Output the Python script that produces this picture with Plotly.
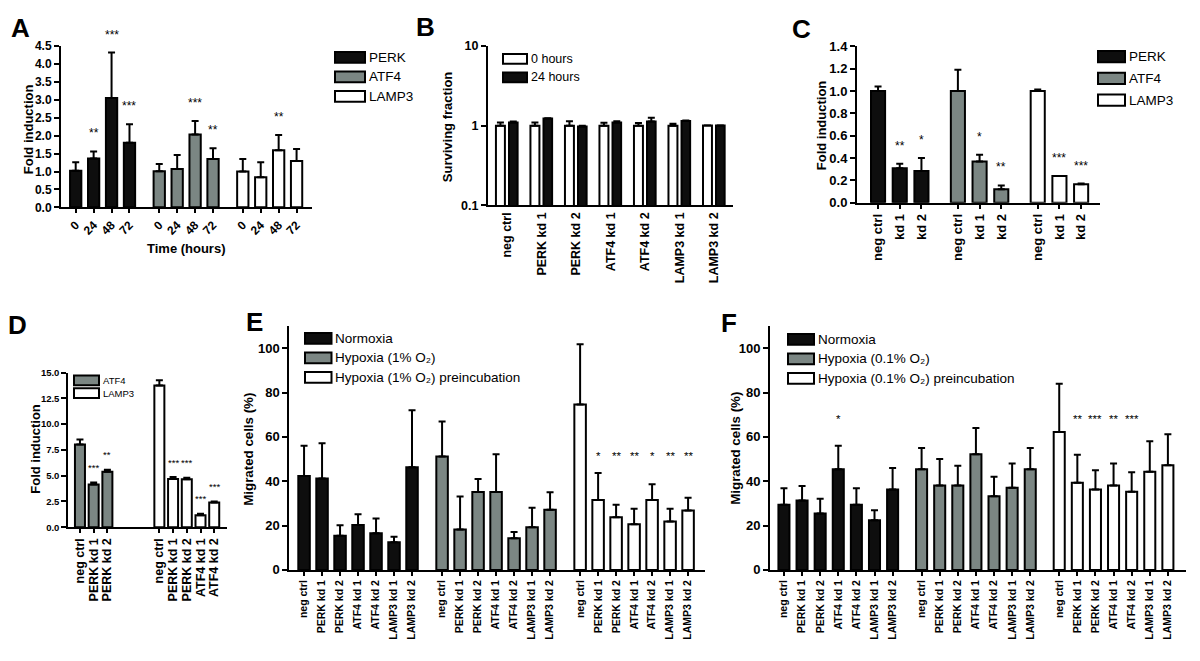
import plotly.graph_objects as go

W, H = 1200, 661
FONT = "Arial, 'Liberation Sans', Helvetica, sans-serif"
BLACK = "#0e0e0e"
GREY = "#7b8683"
WHITE = "#ffffff"

# ---------------- data ----------------
# Panel A: fold induction over time (hours)
a_time_labels = ["0", "24", "48", "72"]
a_genes = ["PERK", "ATF4", "LAMP3"]
a_perk = [1.02, 1.36, 3.05, 1.80]
a_perk_sem = [0.24, 0.20, 1.27, 0.52]
a_atf4 = [1.01, 1.07, 2.03, 1.35]
a_atf4_sem = [0.20, 0.39, 0.38, 0.30]
a_lamp3 = [1.00, 0.84, 1.59, 1.29]
a_lamp3_sem = [0.35, 0.42, 0.43, 0.34]
a_perk_sig = ["", "**", "***", "***"]
a_atf4_sig = ["", "", "***", "**"]
a_lamp3_sig = ["", "", "**", ""]

# Panel B: surviving fraction (log)
b_categories = ["neg ctrl", "PERK kd 1", "PERK kd 2", "ATF4 kd 1", "ATF4 kd 2", "LAMP3 kd 1", "LAMP3 kd 2"]
b_series = ["0 hours", "24 hours"]
b_0h = [1.00, 1.00, 1.00, 1.00, 1.00, 1.00, 1.01]
b_0h_sem = [0.10, 0.10, 0.14, 0.09, 0.08, 0.06, 0.00]
b_24h = [1.10, 1.23, 0.98, 1.10, 1.13, 1.15, 1.01]
b_24h_sem = [0.03, 0.01, 0.02, 0.04, 0.13, 0.01, 0.00]

# Panel C: knockdown efficiency
c_categories = ["neg ctrl", "kd 1", "kd 2"]
c_genes = ["PERK", "ATF4", "LAMP3"]
c_perk = [1.00, 0.31, 0.285]
c_perk_sem = [0.04, 0.04, 0.115]
c_atf4 = [1.00, 0.37, 0.12]
c_atf4_sem = [0.19, 0.06, 0.035]
c_lamp3 = [1.00, 0.24, 0.166]
c_lamp3_sem = [0.013, 0.0, 0.006]
c_perk_sig = ["", "**", "*"]
c_atf4_sig = ["", "*", "**"]
c_lamp3_sig = ["", "***", "***"]

# Panel D
d_genes = ["ATF4", "LAMP3"]
d_atf4_categories = ["neg ctrl", "PERK kd 1", "PERK kd 2"]
d_atf4 = [8.02, 4.14, 5.37]
d_atf4_sem = [0.48, 0.19, 0.19]
d_atf4_sig = ["", "***", "**"]
d_lamp3_categories = ["neg ctrl", "PERK kd 1", "PERK kd 2", "ATF4 kd 1", "ATF4 kd 2"]
d_lamp3 = [13.74, 4.67, 4.64, 1.17, 2.40]
d_lamp3_sem = [0.50, 0.19, 0.16, 0.13, 0.10]
d_lamp3_sig = ["", "***", "***", "***", "***"]

# Panel E: migration, 1% O2
ef_categories = ["neg ctrl", "PERK kd 1", "PERK kd 2", "ATF4 kd 1", "ATF4 kd 2", "LAMP3 kd 1", "LAMP3 kd 2"]
e_series = ["Normoxia", "Hypoxia (1% O\u2082)", "Hypoxia (1% O\u2082) preincubation"]
e_norm = [42.4, 41.3, 15.4, 20.3, 16.5, 12.5, 46.3]
e_norm_sem = [13.6, 15.9, 4.7, 4.8, 6.7, 2.5, 25.7]
e_hyp = [51.2, 18.2, 35.1, 35.1, 14.3, 19.3, 27.2]
e_hyp_sem = [15.8, 14.9, 5.9, 17.1, 2.8, 8.8, 7.8]
e_pre = [74.6, 31.6, 23.8, 20.6, 31.6, 21.8, 26.8]
e_pre_sem = [27.2, 12.1, 5.6, 7.0, 7.1, 5.8, 5.8]
e_pre_sig = ["", "*", "**", "**", "*", "**", "**"]

# Panel F: migration, 0.1% O2
f_series = ["Normoxia", "Hypoxia (0.1% O\u2082)", "Hypoxia (0.1% O\u2082) preincubation"]
f_norm = [29.4, 31.3, 25.4, 45.4, 29.4, 22.4, 36.3]
f_norm_sem = [7.5, 6.6, 6.7, 10.6, 7.5, 4.5, 9.7]
f_hyp = [45.4, 38.1, 38.1, 52.2, 33.2, 37.1, 45.4]
f_hyp_sem = [9.6, 11.9, 8.9, 11.8, 8.8, 10.9, 9.6]
f_pre = [62.2, 39.3, 36.3, 38.1, 35.3, 44.3, 47.2]
f_pre_sem = [21.8, 12.7, 8.7, 9.9, 8.8, 13.8, 14.0]
f_norm_sig = ["", "", "", "*", "", "", ""]
f_pre_sig = ["", "**", "***", "**", "***", "", ""]

# ---------------- helpers ----------------
fig = go.Figure()
annotations = []
shapes = []


def bars(ax, xs, ys, sem, color, width, offset=None):
    fig.add_trace(go.Bar(
        x=xs, y=ys, width=width, offset=offset,
        marker=dict(color=color, line=dict(color="black", width=2)),
        error_y=dict(type="data", symmetric=False, array=sem, arrayminus=[0] * len(sem),
                     color="black", thickness=2, width=3.5),
        xaxis="x" + ax, yaxis="y" + ax, showlegend=False, hoverinfo="skip"))


def stars(ax, xs, ys, labels, size=12, yshift=18):
    for x, y, s in zip(xs, ys, labels):
        if s:
            annotations.append(dict(x=x, y=y, xref="x" + ax, yref="y" + ax, text=s, showarrow=False,
                                    yanchor="middle", xanchor="center", yshift=yshift,
                                    font=dict(family=FONT, size=size, color="black")))


def ptext(px, py, text, size=13, bold=True, angle=0, xanchor="center"):
    annotations.append(dict(x=px / W, y=1 - py / H, xref="paper", yref="paper", text=text,
                            showarrow=False, textangle=angle, xanchor=xanchor, yanchor="middle",
                            font=dict(family=FONT, size=size, color="black",
                                      weight="bold" if bold else "normal")))


def legend_item(x0, y0, x1, y1, color, text, size=13.5):
    shapes.append(dict(type="rect", xref="paper", yref="paper", x0=x0 / W, x1=x1 / W,
                       y0=1 - y1 / H, y1=1 - y0 / H, fillcolor=color,
                       line=dict(color="black", width=2), layer="above"))
    ptext(x1 + 1.5, (y0 + y1) / 2, text, size=size, bold=False, xanchor="left")


def xaxis(dom, rng, tickvals, ticktext, anchor, size=12, angle=-90, ticks="outside", ticklen=4):
    return dict(domain=[dom[0] / W, dom[1] / W], range=rng, anchor=anchor, tickmode="array",
                tickvals=tickvals, ticktext=ticktext, tickangle=angle, showline=True,
                linecolor="black", linewidth=2, ticks=ticks, ticklen=ticklen, tickwidth=2,
                tickcolor="black", showgrid=False, zeroline=False, fixedrange=True,
                tickfont=dict(family=FONT, size=size, color="black", weight="bold"))


def yaxis(dom, rng, anchor, size=12, dtick=None, fmt=None, typ="linear", tickvals=None, ticktext=None):
    d = dict(domain=[1 - dom[1] / H, 1 - dom[0] / H], range=rng, anchor=anchor, type=typ,
             showline=True, linecolor="black", linewidth=2, ticks="outside", ticklen=5,
             tickwidth=2, tickcolor="black", showgrid=False, zeroline=False, fixedrange=True,
             tickfont=dict(family=FONT, size=size, color="black", weight="bold"))
    if dtick is not None:
        d.update(dtick=dtick, tick0=0)
    if fmt:
        d["tickformat"] = fmt
    if tickvals is not None:
        d.update(tickmode="array", tickvals=tickvals, ticktext=ticktext)
    return d


# ---------------- Panel A ----------------
a_group_step = 4.66
a_vals = [a_perk, a_atf4, a_lamp3]
a_sems = [a_perk_sem, a_atf4_sem, a_lamp3_sem]
a_sigs = [a_perk_sig, a_atf4_sig, a_lamp3_sig]
a_cols = [BLACK, GREY, WHITE]
a_tickvals, a_ticktext = [], []
for g in range(3):
    xs = [g * a_group_step + i for i in range(len(a_time_labels))]
    bars("", xs, a_vals[g], a_sems[g], a_cols[g], 0.63)
    stars("", xs, [v + s for v, s in zip(a_vals[g], a_sems[g])], a_sigs[g])
    a_tickvals += xs
    a_ticktext += a_time_labels

# ---------------- Panel B ----------------
b_x = list(range(len(b_categories)))
bars("2", b_x, b_0h, b_0h_sem, WHITE, 0.26, offset=-0.32)
bars("2", b_x, b_24h, b_24h_sem, BLACK, 0.25, offset=0.058)

# ---------------- Panel C ----------------
c_group_step = 3.68
c_vals = [c_perk, c_atf4, c_lamp3]
c_sems = [c_perk_sem, c_atf4_sem, c_lamp3_sem]
c_sigs = [c_perk_sig, c_atf4_sig, c_lamp3_sig]
c_tickvals, c_ticktext = [], []
for g in range(3):
    xs = [g * c_group_step + i for i in range(len(c_categories))]
    bars("3", xs, c_vals[g], c_sems[g], a_cols[g], 0.65)
    stars("3", xs, [v + s for v, s in zip(c_vals[g], c_sems[g])], c_sigs[g])
    c_tickvals += xs
    c_ticktext += c_categories

# ---------------- Panel D ----------------
d_x1 = [i for i in range(len(d_atf4_categories))]
d_x2 = [5.79 + i for i in range(len(d_lamp3_categories))]
bars("4", d_x1, d_atf4, d_atf4_sem, GREY, 0.73)
bars("4", d_x2, d_lamp3, d_lamp3_sem, WHITE, 0.73)
stars("4", d_x1, [v + s for v, s in zip(d_atf4, d_atf4_sem)], d_atf4_sig, size=9.5, yshift=15)
stars("4", d_x2, [v + s for v, s in zip(d_lamp3, d_lamp3_sem)], d_lamp3_sig, size=9.5, yshift=15)

# ---------------- Panel E ----------------
e_group_step = 7.67
e_vals = [e_norm, e_hyp, e_pre]
e_sems = [e_norm_sem, e_hyp_sem, e_pre_sem]
e_tickvals, e_ticktext = [], []
for g in range(3):
    xs = [g * e_group_step + i for i in range(len(ef_categories))]
    bars("5", xs, e_vals[g], e_sems[g], a_cols[g], 0.64)
    e_tickvals += xs
    e_ticktext += ef_categories
e_star_level = 52
stars("5", [2 * e_group_step + i for i in range(7)], [e_star_level] * 7, e_pre_sig, size=11.5, yshift=-1)

# ---------------- Panel F ----------------
f_group_step = 7.6
f_vals = [f_norm, f_hyp, f_pre]
f_sems = [f_norm_sem, f_hyp_sem, f_pre_sem]
f_tickvals, f_ticktext = [], []
for g in range(3):
    xs = [g * f_group_step + i for i in range(len(ef_categories))]
    bars("6", xs, f_vals[g], f_sems[g], a_cols[g], 0.61)
    f_tickvals += xs
    f_ticktext += ef_categories
f_star_level = 68.5
stars("6", list(range(7)), [f_star_level] * 7, f_norm_sig, size=11.5, yshift=-1)
stars("6", [2 * f_group_step + i for i in range(7)], [f_star_level] * 7, f_pre_sig, size=11.5, yshift=-1)

# ---------------- legends (drawn keys) ----------------
for i, (g, c) in enumerate(zip(a_genes, a_cols)):
    legend_item(335, 46 + i * 20, 365, 57 + i * 20, c, g)
for i, (s, c) in enumerate(zip(b_series, [WHITE, BLACK])):
    legend_item(503, 48 + i * 19, 527, 58 + i * 19, c, s, size=12.5)
for i, (g, c) in enumerate(zip(c_genes, a_cols)):
    legend_item(1098, 45 + i * 22.3, 1125, 56.5 + i * 22.3, c, g)
for i, (g, c) in enumerate(zip(d_genes, [GREY, WHITE])):
    legend_item(74, 377 + i * 13, 99, 387 + i * 13, c, g, size=9.5)
for i, (s, c) in enumerate(zip(e_series, a_cols)):
    legend_item(305, 333.5 + i * 20, 331.5, 344.5 + i * 20, c, s)
for i, (s, c) in enumerate(zip(f_series, a_cols)):
    legend_item(788, 334.5 + i * 20, 814, 345.5 + i * 20, c, s)

# ---------------- titles & panel letters ----------------
ptext(28, 125, "Fold induction", angle=-90)
ptext(186, 247, "Time (hours)")
ptext(447, 123, "Surviving fraction", angle=-90)
ptext(821, 121, "Fold induction", angle=-90)
ptext(36, 452, "Fold induction", angle=-90)
ptext(249, 453, "Migrated cells (%)", angle=-90, size=13.3)
ptext(736, 452, "Migrated cells (%)", angle=-90, size=13.3)
for letter, lx, ly in [("A", 20, 21), ("B", 425, 20), ("C", 801, 23),
                       ("D", 17, 325), ("E", 254, 322), ("F", 729, 323)]:
    ptext(lx, ly, letter, size=26)

# ---------------- axes ----------------
fig.update_layout(
    width=W, height=H, margin=dict(l=0, r=0, t=0, b=0),
    paper_bgcolor="white", plot_bgcolor="white", barmode="overlay", showlegend=False,
    font=dict(family=FONT, color="black"),
    xaxis=xaxis((61, 312), [-0.82, 13.18], a_tickvals, a_ticktext, "y", size=12, angle=-45),
    yaxis=yaxis((40, 205), [0, 4.5], "x", size=12, dtick=0.5, fmt=".1f"),
    xaxis2=xaxis((488, 733), [-0.55, 6.55], b_x, b_categories, "y2", size=12.5, ticks=""),
    yaxis2=yaxis((40, 203), [-1, 1], "x2", size=12.5, typ="log",
                 tickvals=[0.1, 1, 10], ticktext=["0.1", "1", "10"]),
    xaxis3=xaxis((857, 1100), [-0.97, 10.23], c_tickvals, c_ticktext, "y3", size=13),
    yaxis3=yaxis((40.3, 200.3), [0, 1.4], "x3", size=13, dtick=0.2, fmt=".1f"),
    xaxis4=xaxis((68.3, 226.7), [-0.85, 10.7], d_x1 + d_x2, d_atf4_categories + d_lamp3_categories,
                 "y4", size=12.5),
    yaxis4=yaxis((374, 532.3), [0, 15], "x4", size=9.5, dtick=2.5, fmt=".1f"),
    xaxis5=xaxis((289.3, 705), [-0.82, 22.28], e_tickvals, e_ticktext, "y5", size=10.5),
    yaxis5=yaxis((326.5, 576), [0, 110], "x5", size=13, dtick=20),
    xaxis6=xaxis((770, 1186), [-0.77, 22.2], f_tickvals, f_ticktext, "y6", size=10.5),
    yaxis6=yaxis((326.5, 576), [0, 110], "x6", size=13, dtick=20),
    annotations=annotations, shapes=shapes,
)

fig.write_html("out.html", config={"displayModeBar": False},
               post_script="document.body.style.margin='0';document.body.style.overflow='hidden';")
